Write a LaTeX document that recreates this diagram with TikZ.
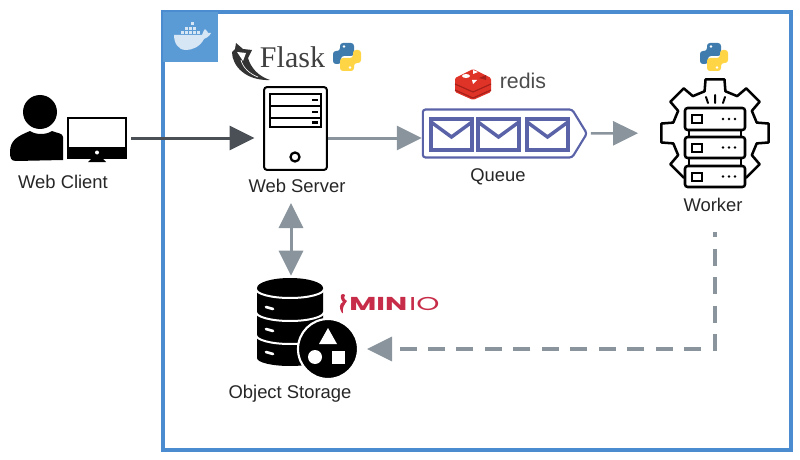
\documentclass[tikz,border=0pt]{standalone}
\usepackage{fontspec}
\setmainfont{Liberation Sans}
\newfontfamily\flaskfont{Liberation Serif}
\newfontfamily\miniofont{Poppins}
\usetikzlibrary{arrows.meta,shapes.symbols}

\definecolor{framecol}{HTML}{4A8CCF}
\definecolor{dockercol}{HTML}{5B9BD5}
\definecolor{whalecol}{HTML}{D6E6F5}
\definecolor{darkarrow}{HTML}{4A5056}
\definecolor{greyarrow}{HTML}{8A949C}
\definecolor{queuecol}{HTML}{5A62A8}
\definecolor{pyblue}{HTML}{3F7CAD}
\definecolor{pyyellow}{HTML}{FFD545}
\definecolor{redisdark}{HTML}{A8201A}
\definecolor{redisred}{HTML}{DF3328}
\definecolor{miniocol}{HTML}{C72C48}

\tikzset{
    label text/.style={text=black!85,font=\fontsize{13.8}{16}\selectfont,inner sep=0},
    bigtip/.style={-{Triangle[length=18.75pt,width=18pt]}},
    flow dark/.style={draw=darkarrow,line width=2.25pt,bigtip},
    flow grey/.style={draw=greyarrow,line width=2.25pt,bigtip},
    envelope/.style={draw=queuecol,line width=2.6pt},
    rack/.style={draw=black,fill=white,line width=1.9pt,rounded corners=2pt},
    pics/pylogo/.style={code={
        \foreach \ang/\col in {0/pyblue,180/pyyellow} {
            \begin{scope}[rotate=\ang]
                \fill[\col,rounded corners=2.2pt] (-7,-14) -- (7,-14) -- (7,-1) -- (-6,-1)
                    -- (-6,7) -- (-14,7) -- (-14,-6) -- (-7,-6) -- cycle;
                \fill[white] (-3,-10.5) circle (1.4);
            \end{scope}
        }
    }},
}

\begin{document}
\begin{tikzpicture}[x=.75pt,y=-.75pt]
    \useasboundingbox (0,0) rectangle (800,460);

    % docker frame
    \draw[framecol,line width=2.4pt] (163,12) rectangle (791,450);
    \fill[dockercol] (163,12) rectangle (218,62);
    \fill[whalecol] (174,35) -- (202,35) .. controls (203,32) and (204,30) .. (205,29) .. controls (207,31) and (208,32) .. (208,33)
        -- (211,33) .. controls (209,37) and (206,38) .. (204,39) .. controls (200,47) and (192,50) .. (186,50)
        .. controls (178,50) and (174,43) .. (174,35) -- cycle;
    \foreach \x/\y in {181/31,185/31,189/31,193/31,197/31,185/27,189/27,193/27,191/22} {
        \fill[whalecol] (\x,\y) rectangle +(3,3);
    }

    % client
    \fill[black] (40,112) circle (17);
    \fill[black] (10,152) .. controls (10,140) and (18,136) .. (30,131) .. controls (36,135) and (46,135) .. (52,131)
        .. controls (56,133) and (63,133) .. (63,137) -- (63,160) -- (16,161)
        .. controls (11,161) and (10,158) .. (10,152) -- cycle;
    \node[draw=black,line width=1.5pt,minimum width=43.5pt,minimum height=30pt,inner sep=0] (monitor) at (97,138) {};
    \fill[black] (68,147) rectangle (126,158);
    \fill[white] (97,152.5) circle (2);
    \fill[black] (92,158) -- (102,158) -- (106,162) -- (88,162) -- cycle;
    \node[label text] (clientlabel) at (63,182) {Web Client};

    % server
    \node[draw=black,line width=1.5pt,rounded corners=2pt,minimum width=47pt,minimum height=62pt,inner sep=0] (server) at (295.5,128.5) {};
    \foreach \y/\h in {94/12,106/12,118/9} {
        \draw[black,line width=1.5pt] (270,\y) rectangle +(51,\h);
        \fill[black] (312,\y+\h/2-1) rectangle +(6,2.5);
    }
    \draw[black,line width=1.7pt] (295,157) circle (4.5);
    \node[label text] (serverlabel) at (297,186) {Web Server};

    % flask
    \fill[black!80] (232,52) .. controls (232,66) and (246,81) .. (270,80)
        .. controls (258,76) and (251,68) .. (248,58) -- (252,50) -- (243,49) -- (236,43) -- (235,49) -- cycle;
    \fill[white] (237,52) -- (246,53) -- (243,61) -- cycle;
    \draw[white,line width=.5pt] (241,60) .. controls (243,68) and (250,74) .. (258,77);
    \node[text=black!75,inner sep=0,font=\flaskfont\fontsize{22.5}{24}\selectfont] (flasklabel) at (292.5,57) {Flask};
    \pic at (347,57) {pylogo};

    % queue
    \node[signal,signal to=east,signal pointer angle=117,draw=queuecol,line width=1.6pt,rounded corners=2pt,
        minimum width=123pt,minimum height=36pt,inner sep=0] (queue) at (497.5,133.5) {};
    \foreach \x in {431,478,527} {
        \draw[envelope] (\x,119) rectangle +(41,31);
        \draw[envelope] (\x,122) -- +(20.5,15) -- +(41,0);
    }
    \node[label text] (queuelabel) at (498,177) {Queue};

    % redis
    \fill[redisred,rounded corners=1pt] (473,69) -- (491,78) -- (491,92) -- (473,100) -- (455,92) -- (455,78) -- cycle;
    \foreach \y in {84,90} {
        \draw[redisdark,line width=.9pt] (455,\y) -- (473,\y+8) -- (491,\y);
    }
    \fill[white] (466,76) circle (4 and 2);
    \fill[white] (473,70) -- (478,72) -- (473,74) -- cycle;
    \fill[white] (472,80) -- (477,80) -- (473,84) -- cycle;
    \fill[redisdark] (479,78) -- (486,75) -- (486,80) -- cycle;
    \node[text=black!70,inner sep=0,font=\fontsize{16}{18}\selectfont] (redislabel) at (523,81) {redis};

    % worker
    \node[minimum width=79pt,minimum height=82pt,inner sep=0] (worker) at (715,133) {};
    \begin{scope}[shift={(worker.center)}]
        \draw[black,line width=1.9pt,line join=round] (-14:43)
            \foreach \a in {0,45,...,315} {
                -- (\a-14:43) -- (\a-10:54.5) -- (\a+10:54.5) -- (\a+14:43)
            } -- cycle;
    \end{scope}
    \foreach \y/\h in {108/22,137/21,166/21} {
        \draw[rack] (685,\y) rectangle +(60,\h);
        \draw[black,line width=1.5pt] (692,\y+\h/2-4) rectangle +(10,8);
        \foreach \x in {723,729,735} {
            \fill[black] (\x,\y+\h/2) circle (1.3);
        }
    }
    \draw[black,line width=1.2pt] (689,130) -- (689,137) (741,130) -- (741,137) (689,158) -- (689,166) (741,158) -- (741,166);
    \draw[black,line width=1.5pt,line cap=round] (706,97) -- (708,103) (715,95) -- (715,103) (725,97) -- (723,103);
    \node[label text] (workerlabel) at (713,205) {Worker};
    \pic at (714,57) {pylogo};

    % storage
    \node[minimum width=50pt,minimum height=65pt,inner sep=0] (storage) at (291,322) {};
    \fill[black] (257,288) -- (257,358) arc (180:0:33 and 8) -- (323,288) arc (0:-180:33 and 10) -- cycle;
    \foreach \y in {289,312,335} {
        \draw[white,line width=1.5pt] (256,\y) arc (180:0:34 and 9);
    }
    \foreach \y in {308,330,353} {
        \draw[white,line width=2pt,line cap=round] (266,\y-1) -- (273,\y+1);
    }
    \node[circle,fill=black,draw=white,line width=1.6pt,minimum size=45pt,inner sep=0] (shapes) at (328,349) {};
    \fill[white] (328,328) -- (337,344) -- (319,344) -- cycle;
    \fill[white] (315,357) circle (7);
    \fill[white] (332,351) rectangle (345,364);
    \node[label text] (storagelabel) at (290,394) {Object Storage};

    % minio
    \fill[miniocol] (343,294) .. controls (339,294) and (341,300) .. (343,302) .. controls (339,304) and (339,308) .. (342,313)
        -- (343,313) .. controls (342,308) and (344,305) .. (347,301) .. controls (344,299) and (343,297) .. (345,295) -- cycle;
    \node[text=miniocol,inner sep=0,anchor=west,font=\miniofont\fontsize{14}{16}\selectfont] (miniolabel) at (349,303.5)
        {\scalebox{1.58}[1]{\bfseries MIN}\hspace{1.5pt}\scalebox{1.58}[1]{IO}};

    % connectors
    \draw[flow dark,shorten <=3pt,shorten >=6.5pt] (monitor.east) -- (monitor.east -| server.west);
    \draw[flow grey] (server.east |- monitor.east) -- (queue.west |- monitor.east);
    \draw[flow grey,line width=1.9pt,shorten <=2pt,shorten >=18pt] (queue.east) -- (worker.west);
    \draw[draw=greyarrow,line width=2.25pt,{Triangle[length=18.75pt,width=18pt]}-{Triangle[length=18.75pt,width=18pt]},shorten <=7.5pt,shorten >=2pt]
        (storage.north |- serverlabel.south) -- (storage.north);
    \draw[flow grey,dash pattern=on 12.75pt off 8.6pt,dash phase=8.6pt,line width=2.6pt,shorten <=33pt,shorten >=6pt] (worker.south) |- (shapes.east);
\end{tikzpicture}
\end{document}
